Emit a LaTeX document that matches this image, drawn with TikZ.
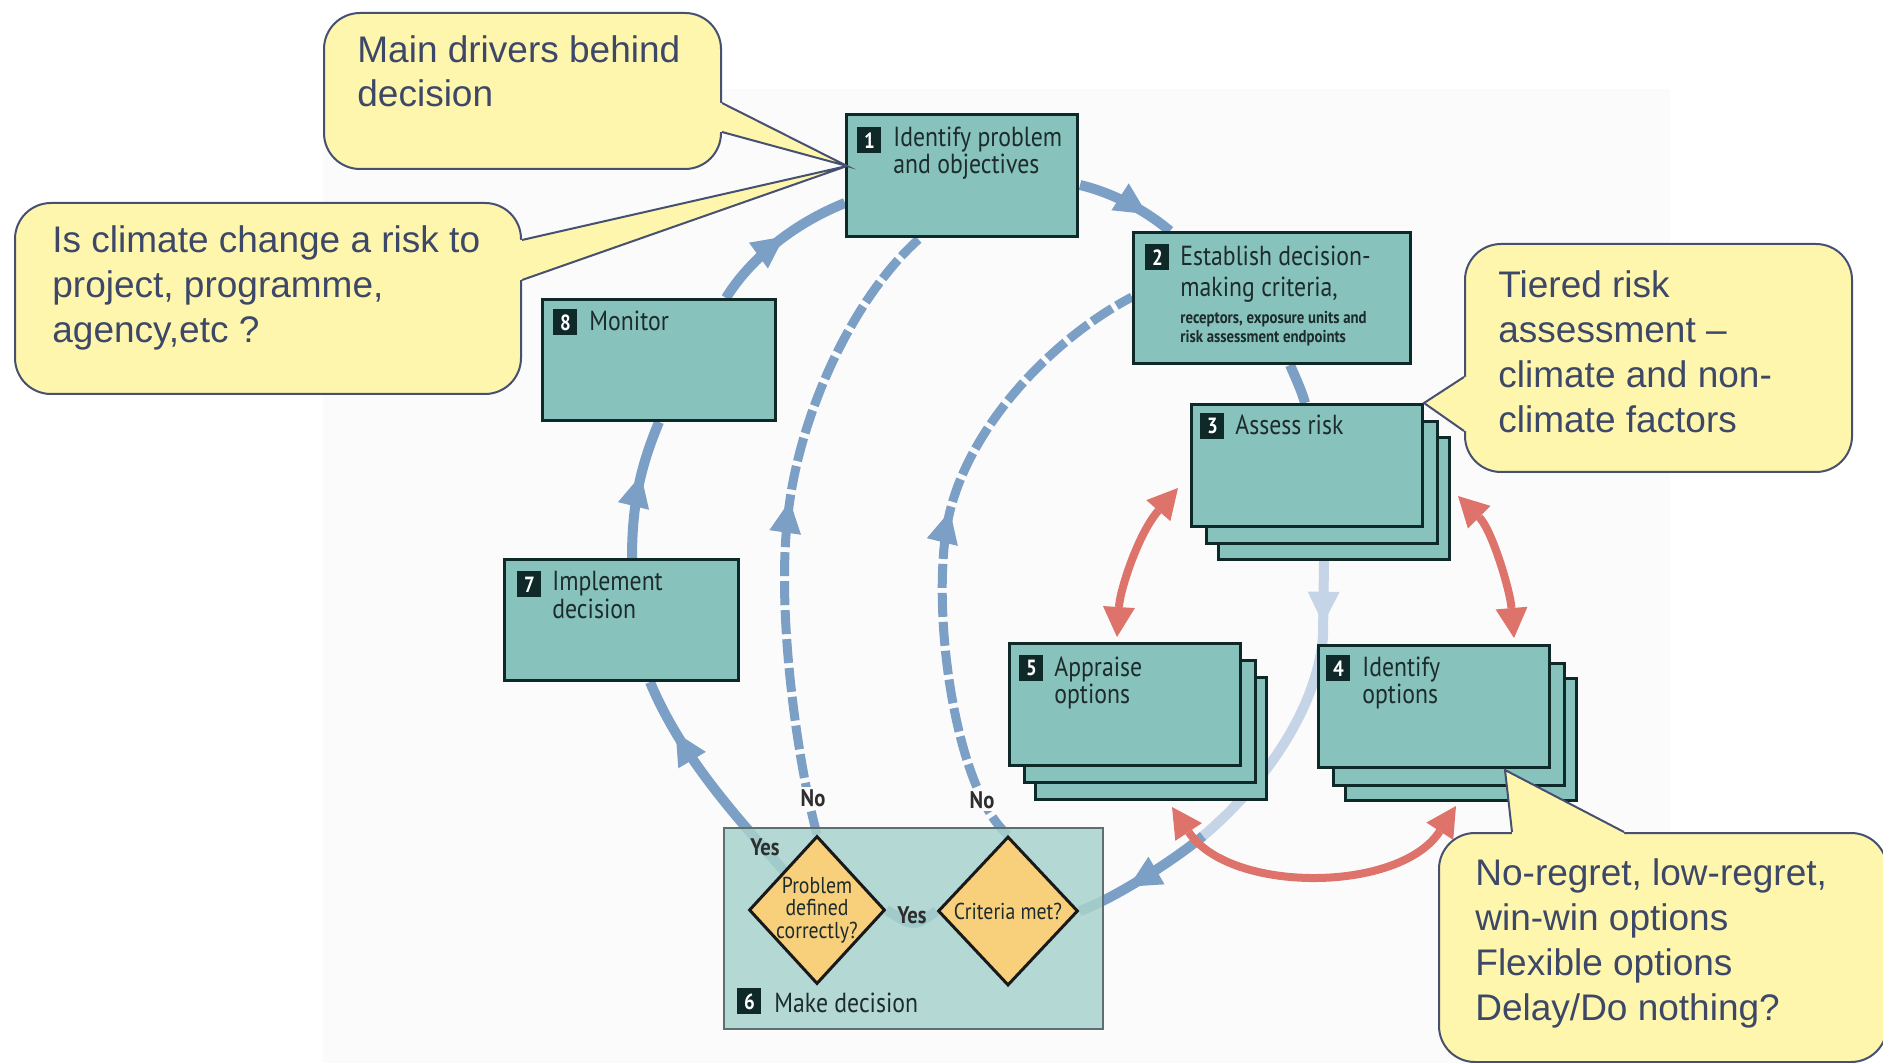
\documentclass[tikz,border=0pt]{standalone}
\usepackage{fontspec}
\setmainfont{Liberation Sans}
\newfontfamily\boxfont[FakeStretch=0.86]{PT Sans}
\usetikzlibrary{arrows.meta,decorations.markings,calc,shapes.geometric}
\pgfdeclarelayer{back}
\pgfdeclarelayer{lines}
\pgfsetlayers{back,lines,main}
\definecolor{bgcol}{HTML}{FBFBFB}
\definecolor{boxfill}{HTML}{88C2BC}
\definecolor{boxline}{HTML}{0F2828}
\definecolor{boxtext}{HTML}{1C2B2B}
\definecolor{mkfill}{HTML}{A8D2CD}
\definecolor{mkline}{HTML}{5E6F6F}
\definecolor{dmfill}{HTML}{F8D07C}
\definecolor{flowcol}{HTML}{7CA0C5}
\definecolor{flowlt}{HTML}{C5D4E6}
\definecolor{redcol}{HTML}{DE736C}
\definecolor{callfill}{HTML}{FFF6AD}
\definecolor{callline}{HTML}{465070}
\definecolor{calltext}{HTML}{3D4868}
\definecolor{yntext}{HTML}{2E2E2E}
\tikzset{
  box/.style={draw=boxline, line width=1.5pt, fill=boxfill, inner sep=0pt, anchor=north west, minimum width=115.5pt, minimum height=61pt},
  mkbox/.style={draw=mkline, line width=1.2pt, fill=mkfill, fill opacity=0.85, inner sep=0pt, anchor=north west, minimum width=189.5pt, minimum height=100.5pt},
  dmd/.style={diamond, aspect=1, draw=black!90, line width=1.5pt, fill=dmfill, inner sep=0pt},
  numsq/.style={fill=boxline, text=white, font=\boxfont\bfseries\fontsize{11pt}{11pt}\selectfont, minimum width=12pt, minimum height=13pt, inner sep=0pt, anchor=north west},
  boxtxt/.style={anchor=base west, align=left, inner sep=0pt, text=boxtext, font=\boxfont\fontsize{13.8pt}{12pt}\selectfont},
  smalltxt/.style={anchor=base west, align=left, inner sep=0pt, text=boxtext, font=\boxfont\bfseries\fontsize{8.6pt}{9.5pt}\selectfont},
  dtxt/.style={align=center, inner sep=0pt, text=boxtext, font=\boxfont\fontsize{11.5pt}{11.2pt}\selectfont},
  yn/.style={inner sep=1pt, text=yntext, font=\boxfont\bfseries\fontsize{12pt}{12pt}\selectfont},
  flow/.style={color=flowcol, line width=5pt},
  flowlight/.style={color=flowlt, line width=5pt},
  dflow/.style={color=flowcol, line width=4.5pt, dash pattern=on 12pt off 2.5pt},
  midarrow/.style={postaction={decorate,decoration={markings,mark=at position #1 with {\arrow{Triangle[length=16pt,width=16pt,line width=0pt]}}}}},
  reddbl/.style={color=redcol, line width=4pt, arrows={Triangle[length=15pt,width=16pt,line width=0pt]-Triangle[length=15pt,width=16pt,line width=0pt]}},
  callbody/.style={draw=callline, line width=1pt, fill=callfill, rounded corners=18pt, inner sep=0pt, anchor=north west},
  callside/.style={draw=callline, line width=1pt, line join=miter},
  calltxt/.style={anchor=base west, align=left, inner sep=0pt, text=calltext, font=\fontsize{18.5pt}{22.5pt}\selectfont}
}
\begin{document}
\begin{tikzpicture}[x=0.5pt,y=-0.5pt]
\useasboundingbox (0,0) rectangle (1883,1063);
\begin{pgfonlayer}{back}
\fill[bgcol] (323,89) rectangle (1670,1063);
\end{pgfonlayer}

% boxes
\node[box] (b1) at (845,113) {};
\node[box, minimum width=138.5pt, minimum height=65.5pt] (b2) at (1132,231) {};
\node[box] (b3c) at (1217,436) {};
\node[box] (b3b) at (1205,420) {};
\node[box] (b3) at (1190,403) {};
\node[box] (b5c) at (1034,676) {};
\node[box] (b5b) at (1023,659) {};
\node[box] (b5) at (1008,642) {};
\node[box] (b4c) at (1344,677) {};
\node[box] (b4b) at (1332,662) {};
\node[box] (b4) at (1317,644) {};
\node[box, minimum width=116.5pt, minimum height=60.5pt] (b8) at (541,298) {};
\node[box, minimum width=117pt, minimum height=60.5pt] (b7) at (503,558) {};
\node[mkbox] (b6) at (723,827) {};
\node[dmd, minimum width=68pt, minimum height=74pt] (d1) at (817,910) {};
\node[dmd, minimum width=70pt, minimum height=74.5pt] (d2) at (1008,911) {};
\coordinate (fade) at (1203,836);

% number squares
\node[numsq] (n1) at ($(b1.north west)+(12,14)$) {1};
\node[numsq] (n2) at ($(b2.north west)+(13,13)$) {2};
\node[numsq] (n3) at ($(b3.north west)+(10,10)$) {3};
\node[numsq] (n5) at ($(b5.north west)+(11,13)$) {5};
\node[numsq] (n4) at ($(b4.north west)+(9,11)$) {4};
\node[numsq] (n8) at ($(b8.north west)+(12,11)$) {8};
\node[numsq] (n7) at ($(b7.north west)+(14,13)$) {7};
\node[numsq] (n6) at ($(b6.north west)+(14,161)$) {6};

% box texts (anchor = baseline of last line)
\node[boxtxt] (t1) at (893,174) {Identify problem\\and objectives};
\node[boxtxt, font=\boxfont\fontsize{13.8pt}{15.5pt}\selectfont] (t2) at (1180,297) {Establish decision-\\making criteria,};
\node[smalltxt] (t2s) at (1180,343) {receptors, exposure units and\\risk assessment endpoints};
\node[boxtxt] (t3) at (1235,435) {Assess risk};
\node[boxtxt, font=\boxfont\fontsize{13.8pt}{13.5pt}\selectfont] (t5) at (1054,703) {Appraise\\options};
\node[boxtxt, font=\boxfont\fontsize{13.8pt}{13.5pt}\selectfont] (t4) at (1362,703) {Identify\\options};
\node[boxtxt] (t8) at (589,331) {Monitor};
\node[boxtxt, font=\boxfont\fontsize{13.8pt}{12.5pt}\selectfont] (t7) at (552,618) {Implement\\decision};
\node[boxtxt] (t6) at (774,1012) {Make decision};
\node[dtxt] (td1) at (d1.center) {Problem\\defined\\correctly?};
\node[dtxt] (td2) at (d2.center) {Criteria met?};

% connectors
\begin{pgfonlayer}{lines}
\draw[flow, midarrow=0.6] ($(b7.north west)+(129,0)$) .. controls +(0,-58) and +(-17,41) .. (b8.south);
\draw[flow, midarrow=0.55] ($(b8.north east)+(-51,0)$) .. controls +(22,-36) and +(-55,22) .. ($(b1.north west)+(0,90)$);
\draw[flow, midarrow=0.72] ($(b1.north east)+(1,72)$) .. controls +(33,8) and +(-25,-21) .. ($(b2.north west)+(38,0)$);
\draw[flow] ($(b2.south west)+(158,0)$) .. controls +(7,16) and +(-3,-11) .. ($(b3.north west)+(115,0)$);
\draw[flowlight, midarrow=0.2] ($(b3c.south west)+(107,0)$) -- ++(-1,75) .. controls +(-6,76) and +(57,-48) .. (fade);
\draw[flow, midarrow=0.62] (fade) .. controls +(-30,25) and +(32,-11) .. (d2.east);
\draw[flow] (d2.west) .. controls +(-25,18) and +(25,15) .. (d1.east);
\draw[flow, midarrow=0.8] (d1.center) .. controls +(-47,-60) and +(40,96) .. ($(b7.south west)+(147,0)$);
\draw[dflow, midarrow=0.53] (d1.north) .. controls (797,760) and (776,610) .. (788,515) .. controls (798,420) and (850,300) .. ($(b1.south west)+(75,0)$);
\draw[dflow, midarrow=0.54] (d2.north) .. controls (955,790) and (930,610) .. (948,520) .. controls (966,430) and (1050,340) .. ($(b2.north west)+(0,66)$);
\end{pgfonlayer}

% yes / no labels
\node[yn, fill=bgcol] (no1) at (813,798) {No};
\node[yn, fill=bgcol] (no2) at (982,800) {No};
\node[yn] (yes1) at (765,847) {Yes};
\node[yn] (yes2) at (912,915) {Yes};

% red double arrows
\draw[reddbl] ($(b3.south west)+(-12,-40)$) .. controls +(-40,46) and +(3,-47) .. ($(b5.north west)+(109,-5)$);
\draw[reddbl] ($(b3c.north east)+(7,60)$) .. controls +(34,34) and +(-4,-48) .. ($(b4.north west)+(197,-6)$);
\draw[reddbl] ($(b5c.south west)+(138,6)$) .. controls +(58,87) and +(-56,87) .. ($(b4c.south west)+(112,4)$);

% callouts
\coordinate (tipA) at ($(b1.north west)+(2,53)$);
\node[callbody, minimum width=253pt, minimum height=95.5pt] (cB) at (14,202) {};
\fill[callfill] ($(cB.north east)+(-4,38)$) -- ($(cB.north east)+(0,38)$) -- (tipA) -- ($(cB.north east)+(0,78)$) -- ($(cB.north east)+(-4,78)$) -- cycle;
\draw[callside] ($(cB.north east)+(0,38)$) -- (tipA) -- ($(cB.north east)+(0,78)$);
\node[calltxt] (tB) at (52,343) {Is climate change a risk to\\project, programme,\\agency,etc ?};

\node[callbody, minimum width=198.5pt, minimum height=78pt] (cA) at (323,12) {};
\fill[callfill] ($(cA.north east)+(-4,91)$) -- ($(cA.north east)+(0,91)$) -- (tipA) -- ($(cA.north east)+(0,120)$) -- ($(cA.north east)+(-4,120)$) -- cycle;
\draw[callside] ($(cA.north east)+(0,91)$) -- (tipA) -- ($(cA.north east)+(0,120)$);
\node[calltxt, font=\fontsize{18.5pt}{22pt}\selectfont] (tA) at (357,107) {Main drivers behind\\decision};

\node[callbody, minimum width=193.5pt, minimum height=114pt] (cC) at (1464,243) {};
\fill[callfill] ($(cC.north west)+(4,134)$) -- ($(cC.north west)+(0,134)$) -- (b3.north east) -- ($(cC.north west)+(0,188)$) -- ($(cC.north west)+(4,188)$) -- cycle;
\draw[callside] ($(cC.north west)+(0,134)$) -- (b3.north east) -- ($(cC.north west)+(0,188)$);
\node[calltxt] (tC) at (1498,433) {Tiered risk\\assessment –\\climate and non-\\climate factors};

\node[callbody, minimum width=224pt, minimum height=114.5pt] (cD) at (1438,832) {};
\fill[callfill] ($(cD.north west)+(74,4)$) -- ($(cD.north west)+(74,0)$) -- ($(b4.south west)+(188,1)$) -- ($(cD.north west)+(186,0)$) -- ($(cD.north west)+(186,4)$) -- cycle;
\draw[callside] ($(cD.north west)+(74,0)$) -- ($(b4.south west)+(188,1)$) -- ($(cD.north west)+(186,0)$);
\node[calltxt] (tD) at (1475,1020) {No-regret, low-regret,\\win-win options\\Flexible options\\Delay/Do nothing?};
\end{tikzpicture}
\end{document}
